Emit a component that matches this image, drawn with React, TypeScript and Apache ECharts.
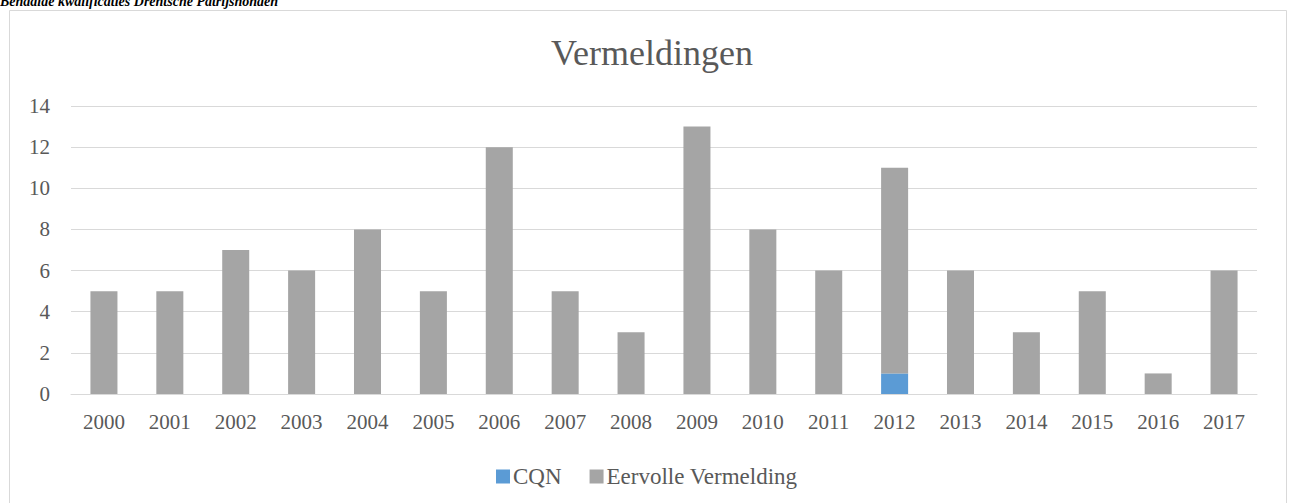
import React, { useEffect, useRef } from "react";
import * as echarts from "echarts";

const years = ["2000","2001","2002","2003","2004","2005","2006","2007","2008","2009","2010","2011","2012","2013","2014","2015","2016","2017"];
const cqn = [0,0,0,0,0,0,0,0,0,0,0,0,1,0,0,0,0,0];
const eervolle = [5,5,7,6,8,5,12,5,3,13,8,6,10,6,3,5,1,6];
const yTicks = { min: 0, max: 14, interval: 2 };

const FONT = "Times New Roman";

export default function App() {
  const ref = useRef<HTMLDivElement>(null);
  useEffect(() => {
    if (!ref.current) return;
    const chart = echarts.init(ref.current, undefined, { renderer: "svg" });
    chart.setOption({
      animation: false,
      textStyle: { fontFamily: FONT },
      title: {
        text: "Vermeldingen",
        left: 647,
        top: 30,
        textAlign: "center",
        textStyle: { fontFamily: FONT, fontSize: 36, fontWeight: "normal", color: "#595959" },
      },
      graphic: [
        {
          type: "rect",
          shape: { x: 9.5, y: 10.5, width: 1277, height: 510 },
          style: { fill: "none", stroke: "#d9d9d9", lineWidth: 1 },
          silent: true,
        },
        {
          type: "text",
          x: 0,
          y: 1,
          style: {
            text: "Behaalde kwalificaties Drentsche Patrijshonden",
            fontFamily: FONT,
            fontSize: 14,
            fontWeight: "bold",
            fontStyle: "italic",
            fill: "#000000",
            verticalAlign: "middle",
            align: "left",
          },
          silent: true,
        },
      ],
      legend: {
        data: ["CQN", "Eervolle Vermelding"],
        left: 491,
        top: 460,
        itemWidth: 14,
        itemHeight: 14,
        itemGap: 28,
        icon: "rect",
        textStyle: { fontFamily: FONT, fontSize: 23, color: "#595959", padding: [0, 0, 0, -2] },
      },
      grid: { left: 71, right: 32, top: 106, bottom: 109, containLabel: false },
      xAxis: {
        type: "category",
        data: years,
        axisLine: { lineStyle: { color: "#d9d9d9" } },
        axisTick: { show: false },
        axisLabel: { fontFamily: FONT, fontSize: 21, color: "#595959", margin: 17 },
      },
      yAxis: {
        type: "value",
        min: yTicks.min,
        max: yTicks.max,
        interval: yTicks.interval,
        axisLine: { show: false },
        axisTick: { show: false },
        splitLine: { lineStyle: { color: "#d9d9d9" } },
        axisLabel: { fontFamily: FONT, fontSize: 21, color: "#595959", margin: 21 },
      },
      series: [
        {
          name: "CQN",
          type: "bar",
          stack: "total",
          data: cqn,
          barWidth: "41%",
          itemStyle: { color: "#5b9bd5" },
        },
        {
          name: "Eervolle Vermelding",
          type: "bar",
          stack: "total",
          data: eervolle,
          barWidth: "41%",
          itemStyle: { color: "#a5a5a5" },
        },
      ],
    });
    return () => chart.dispose();
  }, []);
  return (
    <div
      ref={ref}
      style={{ position: "absolute", left: 0, top: 0, width: 1289, height: 503, background: "#ffffff" }}
    />
  );
}
